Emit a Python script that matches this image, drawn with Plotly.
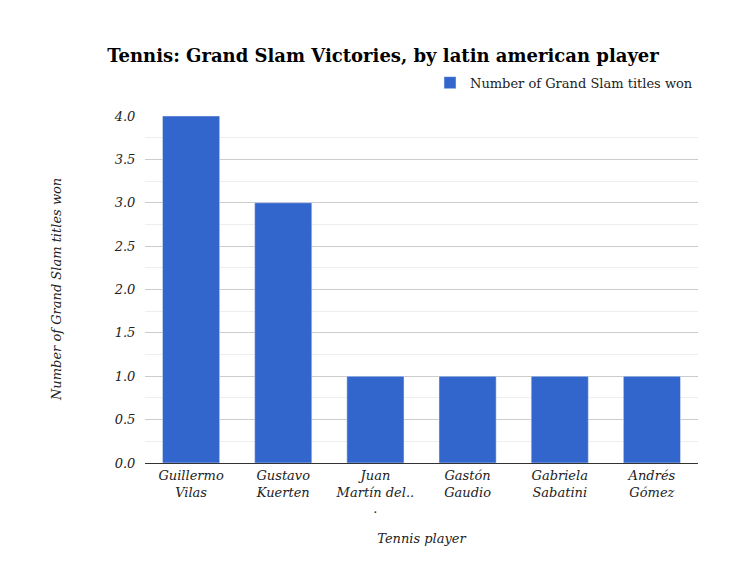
import plotly.graph_objects as go

players = ["Guillermo<br>Vilas", "Gustavo<br>Kuerten", "Juan<br>Martín del..<br>.", "Gastón<br>Gaudio", "Gabriela<br>Sabatini", "Andrés<br>Gómez"]
titles = [4, 3, 1, 1, 1, 1]
series_name = "Number of Grand Slam titles won"

fig = go.Figure(go.Bar(x=players, y=titles, name=series_name, marker_color="#3366CC", width=0.62))
fig.update_layout(
    width=750, height=563, plot_bgcolor="white", paper_bgcolor="white",
    margin=dict(l=137, r=60, t=108, b=108, autoexpand=False),
    font=dict(family="DejaVu Serif", size=13, color="#222"),
    title=dict(text="<b>Tennis: Grand Slam Victories, by latin american player</b>", x=0.5, xanchor="center", y=0.915, yanchor="middle", font=dict(size=18, color="#000")),
    showlegend=True,
    legend=dict(x=1.0, xanchor="right", y=1.096, yanchor="middle", orientation="h", font=dict(size=13)),
    bargap=0.38,
    annotations=[dict(text="Number of Grand Slam titles won", xref="paper", yref="paper", x=-0.16, y=0.5,
                      xanchor="center", yanchor="middle", textangle=-90, showarrow=False,
                      font=dict(style="italic", size=13))],
)
fig.update_yaxes(range=[0, 4], dtick=0.5, tickformat=".1f", gridcolor="#ccc", automargin=False,
                 minor=dict(dtick=0.25, showgrid=True, gridcolor="#eee"),
                 tickfont=dict(style="italic", size=13),
                 zeroline=False, ticks="outside", ticklen=6, tickcolor="white")
fig.update_xaxes(showline=True, linecolor="#333", tickfont=dict(style="italic", size=13), automargin=False,
                 title=dict(text="Tennis player", font=dict(style="italic", size=13), standoff=18))
fig.write_html("out.html")
